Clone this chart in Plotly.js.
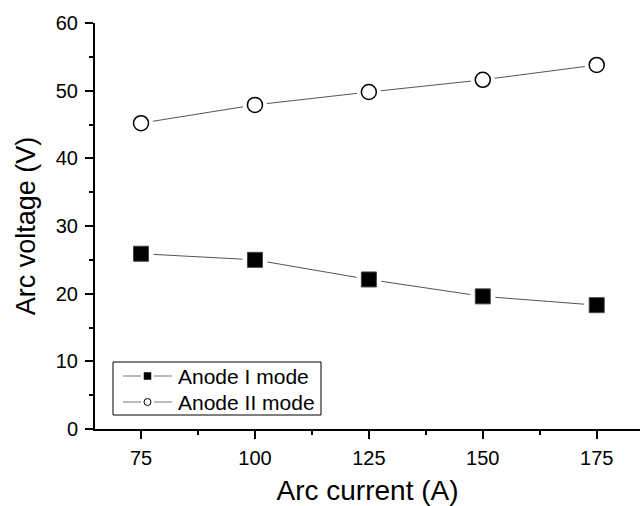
<!DOCTYPE html>
<html>
<head>
<meta charset="utf-8">
<script src="https://cdn.plot.ly/plotly-3.0.1.min.js"></script>
<style>html,body{margin:0;padding:0;background:#fff;}#chart{width:640px;height:506px;}</style>
</head>
<body>
<div id="chart"></div>
<script>
const current = [75, 100, 125, 150, 175];
const anodeI = [25.9, 25.0, 22.1, 19.6, 18.3];
const anodeII = [45.2, 47.9, 49.8, 51.6, 53.8];
const seriesNames = ["Anode I mode", "Anode II mode"];
const xTicks = [75, 100, 125, 150, 175];
const yTicks = [0, 10, 20, 30, 40, 50, 60];

const FONT = "Liberation Sans, Arial, Helvetica, sans-serif";
const lineStyle = {color: "#555555", width: 1};

const traces = [
  {x: current, y: anodeI, mode: "lines+markers", line: lineStyle,
   marker: {symbol: "square", size: 25, color: "#ffffff"}, showlegend: false, hoverinfo: "skip"},
  {x: current, y: anodeI, mode: "markers", name: seriesNames[0],
   marker: {symbol: "square", size: 15, color: "#000000", line: {color: "#444", width: 1}}, showlegend: false},
  {x: current, y: anodeII, mode: "lines+markers", line: lineStyle,
   marker: {symbol: "circle", size: 24, color: "#ffffff"}, showlegend: false, hoverinfo: "skip"},
  {x: current, y: anodeII, mode: "markers", name: seriesNames[1],
   marker: {symbol: "circle", size: 15, color: "#ffffff", line: {color: "#000000", width: 1.5}}, showlegend: false}
];

// manual legend (paper coordinates computed from pixel positions)
const L = 95, T = 23, W = 545, H = 406;
const px = x => (x - L) / W;
const py = y => 1 - (y - T) / H;
const shapes = [
  {type: "rect", xref: "paper", yref: "paper", x0: px(113), x1: px(321), y0: py(415), y1: py(362),
   line: {color: "#000", width: 1}, fillcolor: "#fff", layer: "above"}
];
const rows = [376, 402];
rows.forEach((ry, i) => {
  shapes.push({type: "line", xref: "paper", yref: "paper", x0: px(123), x1: px(141), y0: py(ry), y1: py(ry), line: {color: "#777", width: 1}, layer: "above"});
  shapes.push({type: "line", xref: "paper", yref: "paper", x0: px(154), x1: px(172), y0: py(ry), y1: py(ry), line: {color: "#777", width: 1}, layer: "above"});
  if (i === 0) {
    shapes.push({type: "rect", xref: "paper", yref: "paper", x0: px(144), x1: px(151), y0: py(ry + 3.5), y1: py(ry - 3.5),
      line: {color: "#000", width: 0.5}, fillcolor: "#000", layer: "above"});
  } else {
    shapes.push({type: "circle", xref: "paper", yref: "paper", x0: px(144), x1: px(151), y0: py(ry + 3.5), y1: py(ry - 3.5),
      line: {color: "#000", width: 1}, fillcolor: "#fff", layer: "above"});
  }
});
const annotations = seriesNames.map((n, i) => ({
  xref: "paper", yref: "paper", x: px(176), y: py(rows[i]), xanchor: "left", yanchor: "middle",
  text: n, showarrow: false, font: {family: FONT, size: 21, color: "#000"}
}));

const layout = {
  width: 640, height: 506,
  margin: {l: L, r: 0, t: T, b: 77},
  paper_bgcolor: "#fff", plot_bgcolor: "#fff",
  font: {family: FONT, color: "#000"},
  showlegend: false,
  xaxis: {
    range: [64.9, 184.5], tickvals: xTicks, ticktext: xTicks.map(String),
    ticks: "outside", ticklen: 8, tickwidth: 2, tickcolor: "#000",
    showline: true, linecolor: "#000", linewidth: 2, showgrid: false, zeroline: false,
    tickfont: {family: FONT, size: 20}, ticklabelstandoff: 2,
    minor: {dtick: 12.5, tick0: 62.5, ticks: "outside", ticklen: 4, tickwidth: 2, tickcolor: "#000", showgrid: false},
    title: {text: "Arc current (A)", font: {family: FONT, size: 28}, standoff: 14}
  },
  yaxis: {
    range: [0, 60], tickvals: yTicks, ticktext: yTicks.map(String),
    ticks: "outside", ticklen: 8, tickwidth: 2, tickcolor: "#000",
    showline: true, linecolor: "#000", linewidth: 2, showgrid: false, zeroline: false,
    tickfont: {family: FONT, size: 20}, ticklabelstandoff: 3,
    minor: {dtick: 5, ticks: "outside", ticklen: 4, tickwidth: 2, tickcolor: "#000", showgrid: false},
    title: {text: "Arc voltage (V)", font: {family: FONT, size: 27}, standoff: 12}
  },
  shapes: shapes,
  annotations: annotations
};

Plotly.newPlot("chart", traces, layout, {staticPlot: true, displayModeBar: false});
</script>
</body>
</html>
